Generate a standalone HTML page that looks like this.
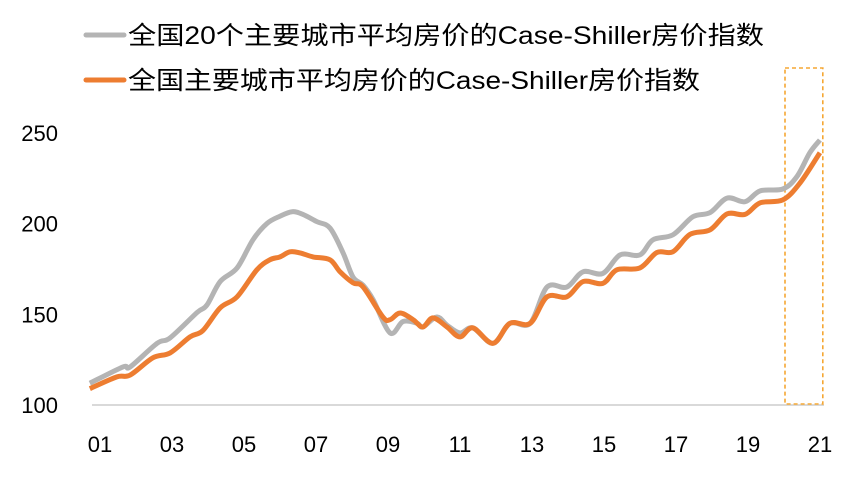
<!DOCTYPE html>
<html><head><meta charset="utf-8">
<style>
body{margin:0;background:#fff;}
svg text{font-family:"Liberation Sans","Noto Sans CJK SC",sans-serif;fill:#000;}
</style></head>
<body>
<svg id="chart" width="845" height="473" viewBox="0 0 845 473" xmlns="http://www.w3.org/2000/svg">
<g>
 <g>
  <line x1="86" y1="35" x2="124" y2="35" stroke="#B4B4B4" stroke-width="5" stroke-linecap="round"/>
  <text x="128" y="44" font-size="25" textLength="636" lengthAdjust="spacingAndGlyphs">全国20个主要城市平均房价的Case-Shiller房价指数</text>
 </g>
 <g>
  <line x1="86" y1="80" x2="124" y2="80" stroke="#ED7D31" stroke-width="5" stroke-linecap="round"/>
  <text x="128" y="89" font-size="25" textLength="572" lengthAdjust="spacingAndGlyphs">全国主要城市平均房价的Case-Shiller房价指数</text>
 </g>
</g>
<g id="yaxis"></g>
<g id="xaxis"></g>
<line x1="92" y1="405" x2="824" y2="405" stroke="#D9D9D9" stroke-width="2"/>
<rect id="hl" fill="none" stroke="#F5A733" stroke-width="1.6" stroke-dasharray="4,3"/>
<g id="series"></g>
</svg>
<script>
const yTicks=[100,150,200,250];
const xTickLabels=["01","03","05","07","09","11","13","15","17","19","21"];
const xTickYears=[2001,2003,2005,2007,2009,2011,2013,2015,2017,2019,2021];
const grayYears=[2000.94,2001.86,2002.06,2002.81,2003.17,2003.92,2004.19,2004.56,2005.03,2005.47,2005.86,2006.22,2006.56,2006.86,2007.25,2007.61,2007.97,2008.25,2008.53,2008.81,2009.28,2009.64,2010.03,2010.19,2010.58,2010.86,2011.22,2011.58,2012.14,2012.61,2013.17,2013.64,2014.19,2014.64,2015.19,2015.67,2016.22,2016.58,2017.14,2017.69,2018.17,2018.64,2019.14,2019.56,2020.19,2020.58,2020.94,2021.22];
const grayValues=[112,121,121,134,137,151,155,168,175.5,191,200,204,206.5,205,201,197.5,184,170.5,166,158,139.7,146,145,143,148.5,144,139.7,142.5,134,145,145,165,165,173.4,172.5,182.7,182.7,191,193.8,203.7,206,214,212,218,219,225.8,239,246];
const orangeYears=[2000.94,2001.69,2002.06,2002.69,2003.17,2003.72,2004.08,2004.56,2005.03,2005.58,2005.94,2006.22,2006.5,2006.78,2007.14,2007.61,2007.89,2008.25,2008.53,2009.08,2009.28,2009.56,2009.92,2010.19,2010.47,2010.86,2011.22,2011.58,2012.14,2012.61,2013.17,2013.64,2014.19,2014.64,2015.19,2015.58,2016.22,2016.69,2017.14,2017.61,2018.17,2018.64,2019.14,2019.56,2020.19,2020.67,2021.22];
const orangeValues=[109,115.5,116.5,126,128.7,137.5,141,153.5,159.6,174.5,180,181.6,184.4,183.8,181.6,180,173.4,167.3,165,148.5,147,150.7,147,143,148,143,137.5,142.5,134,145,145,159.6,159.6,168,167,174.5,175.5,184,184.5,194,196.5,205.3,205,211.4,213,222.4,239];
const hlStart=2020.25, hlEnd=2021.3;

const X=y=>92+36*(y-2001);
const Y=v=>405-(v-100)*1.815;
const NS="http://www.w3.org/2000/svg";
const ya=document.getElementById('yaxis'), xa=document.getElementById('xaxis'), sg=document.getElementById('series');
yTicks.forEach(t=>{
 const e=document.createElementNS(NS,'text');
 e.setAttribute('x',58);e.setAttribute('y',Y(t)+8);e.setAttribute('text-anchor','end');e.setAttribute('font-size','22');
 e.textContent=t;
 
 
 ya.appendChild(e);
});
xTickLabels.forEach((l,i)=>{
 const e=document.createElementNS(NS,'text');
 e.setAttribute('x',X(xTickYears[i])+8);e.setAttribute('y',452);e.setAttribute('text-anchor','middle');e.setAttribute('font-size','22');
 e.textContent=l;
 
 
 xa.appendChild(e);
});
function path(xs,vs){
 const p=xs.map((x,i)=>[X(x),Y(vs[i])]);
 let d='M'+p[0][0]+','+p[0][1];
 for(let i=0;i<p.length-1;i++){
  const p0=p[Math.max(0,i-1)],p1=p[i],p2=p[i+1],p3=p[Math.min(p.length-1,i+2)];
  const c1x=p1[0]+(p2[0]-p0[0])/6,c1y=p1[1]+(p2[1]-p0[1])/6,c2x=p2[0]-(p3[0]-p1[0])/6,c2y=p2[1]-(p3[1]-p1[1])/6;
  d+=` C${c1x},${c1y} ${c2x},${c2y} ${p2[0]},${p2[1]}`;
 }
 return d;
}
const g=document.createElementNS(NS,'path');
g.setAttribute('d',path(grayYears,grayValues));g.setAttribute('fill','none');g.setAttribute('stroke','#B4B4B4');g.setAttribute('stroke-width','5');g.setAttribute('stroke-linejoin','round');


sg.appendChild(g);
const o=document.createElementNS(NS,'path');
o.setAttribute('d',path(orangeYears,orangeValues));o.setAttribute('fill','none');o.setAttribute('stroke','#ED7D31');o.setAttribute('stroke-width','5');o.setAttribute('stroke-linejoin','round');


sg.appendChild(o);
const hl=document.getElementById('hl');
hl.setAttribute('x',X(hlStart));hl.setAttribute('y',68);hl.setAttribute('width',X(hlEnd)-X(hlStart));hl.setAttribute('height',336);
</script>
</body></html>
